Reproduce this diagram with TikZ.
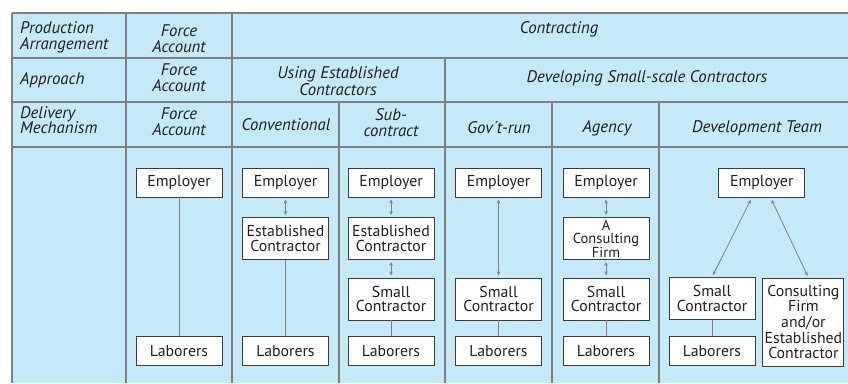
\documentclass[tikz,border=0pt]{standalone}
\usepackage{fontspec}
\setmainfont{PT Sans}
\usetikzlibrary{arrows.meta}
\definecolor{bgc}{HTML}{C6E9F8}
\definecolor{gridc}{HTML}{808080}
\definecolor{ink}{HTML}{231F20}
\definecolor{connc}{HTML}{808080}
\definecolor{boxc}{HTML}{3C3C3C}
\begin{document}
\begin{tikzpicture}[x=1pt,y=-1pt,
  gridline/.style={draw=gridc,line width=1.4pt},
  hl/.style={text=ink,font=\fontsize{16.8}{15.5}\selectfont\itshape,align=left,inner sep=0pt,anchor=west},
  hc/.style={text=ink,font=\fontsize{16.8}{15.5}\selectfont\itshape,align=center,inner sep=0pt},
  box/.style={draw=boxc,fill=white,line width=0.9pt,inner sep=0pt,align=center,text=ink,
    minimum width=86pt,minimum height=29pt,font=\fontsize{15.8}{14.5}\selectfont},
  tall/.style={minimum height=42pt},
  ln/.style={draw=connc,line width=0.8pt},
  arr/.style={draw=connc,line width=0.8pt,{Stealth[length=4pt,width=3.5pt]}-{Stealth[length=4pt,width=3.5pt]},shorten <=2pt,shorten >=2pt}
]
\useasboundingbox (0,0) rectangle (848,383);
\fill[bgc] (12,13) rectangle (848,383);
% grid
\draw[gridline] (12,13) -- (848,13);
\draw[gridline] (12,58) -- (848,58);
\draw[gridline] (12,102) -- (848,102);
\draw[gridline] (12,147) -- (848,147);
\draw[gridline] (12,13) -- (12,383);
\draw[gridline] (126,13) -- (126,383);
\draw[gridline] (232,13) -- (232,383);
\draw[gridline] (339,102) -- (339,383);
\draw[gridline] (445,58) -- (445,383);
\draw[gridline] (552,102) -- (552,383);
\draw[gridline] (659,102) -- (659,383);
% headers
\node[hl] (h1) at (20,37.5) {Production\\Arrangement};
\node[hl] (h2) at (20,80) {Approach};
\node[hl] (h3) at (20,120) {Delivery\\Mechanism};
\node[hc] (f1) at (179,38.5) {Force\\Account};
\node[hc] (f2) at (179,77.5) {Force\\Account};
\node[hc] (f3) at (179,121.5) {Force\\Account};
\node[hc] (c1) at (559,29) {Contracting};
\node[hc] (u2) at (338,81) {Using Established\\Contractors};
\node[hc] (d2) at (647,78.5) {Developing Small-scale Contractors};
\node[hc] (cv) at (286,124.5) {Conventional};
\node[hc] (sb) at (391,122.5) {Sub-\\contract};
\node[hc] (gv) at (499,128) {Gov´t-run};
\node[hc] (ag) at (607,128) {Agency};
\node[hc] (dt) at (757,128) {Development Team};
% column 2
\node[box] (emp2) at (179,182.5) {Employer};
\node[box] (lab2) at (179,351) {Laborers};
\draw[ln] (emp2.south) -- (lab2.north);
% column 3
\node[box] (emp3) at (285.5,182.5) {Employer};
\node[box,tall] (est3) at (285.5,238.5) {Established\\Contractor};
\node[box] (lab3) at (285.5,351.3) {Laborers};
\draw[arr] (emp3.south) -- (est3.north);
\draw[ln] (est3.south) -- (lab3.north);
% column 4
\node[box] (emp4) at (391,182.5) {Employer};
\node[box,tall] (est4) at (391,238.5) {Established\\Contractor};
\node[box,tall] (sc4) at (391,299) {Small\\Contractor};
\node[box] (lab4) at (391,351.3) {Laborers};
\draw[arr] (emp4.south) -- (est4.north);
\draw[arr] (est4.south) -- (sc4.north);
\draw[ln] (sc4.south) -- (lab4.north);
% column 5
\node[box] (emp5) at (498.5,182.5) {Employer};
\node[box,tall] (sc5) at (498.5,299) {Small\\Contractor};
\node[box] (lab5) at (498.5,351.3) {Laborers};
\draw[arr] (emp5.south) -- (sc5.north);
\draw[ln] (sc5.south) -- (lab5.north);
% column 6
\node[box] (emp6) at (606,182.5) {Employer};
\node[box,tall,font=\fontsize{14.5}{13.5}\selectfont] (acf6) at (606,238.5) {A\\Consulting\\Firm};
\node[box,tall] (sc6) at (606,299) {Small\\Contractor};
\node[box] (lab6) at (606,351.3) {Laborers};
\draw[arr] (emp6.south) -- (acf6.north);
\draw[arr] (acf6.south) -- (sc6.north);
\draw[ln] (sc6.south) -- (lab6.north);
% column 7
\node[box] (emp7) at (761.7,183) {Employer};
\node[box,tall] (sc7) at (712,298.5) {Small\\Contractor};
\node[box] (lab7) at (712,351) {Laborers};
\node[box,minimum width=81pt,minimum height=88pt,font=\fontsize{15.8}{15.6}\selectfont] (cf7) at (803.4,322) {Consulting\\Firm\\and/or\\Established\\Contractor};
\draw[arr] ([xshift=-10pt]emp7.south) -- (sc7.north);
\draw[arr] ([xshift=9pt]emp7.south) -- ([xshift=5pt]cf7.north);
\draw[ln] (sc7.south) -- (lab7.north);
\end{tikzpicture}
\end{document}
